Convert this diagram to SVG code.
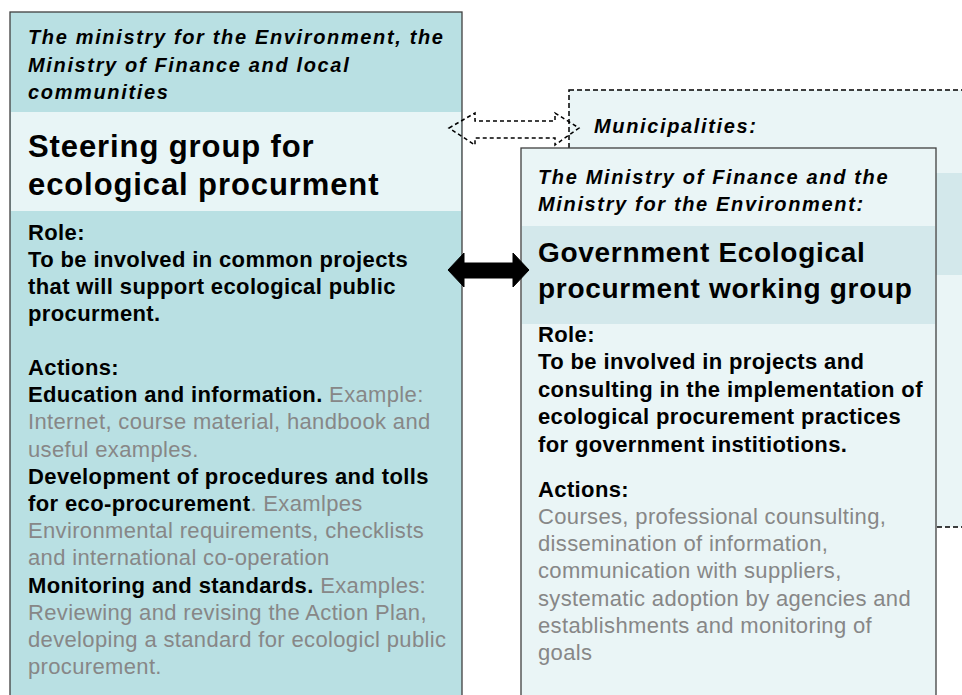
<svg xmlns="http://www.w3.org/2000/svg" width="962" height="695" viewBox="0 0 962 695">
<style>
text{font-family:"Liberation Sans",Arial,sans-serif;}
.hdr{font-size:20px;font-weight:bold;font-style:italic;letter-spacing:1.65px;fill:#000;}
.ttl{font-size:31px;font-weight:bold;letter-spacing:0.9px;fill:#000;}
.ttl2{font-size:28px;font-weight:bold;letter-spacing:0.7px;fill:#000;}
.b{font-size:22px;font-weight:bold;letter-spacing:0.38px;fill:#000;}
.g{font-size:22px;font-weight:normal;letter-spacing:0.35px;fill:#878787;}
.box{stroke:#3f3f3f;stroke-width:1.3;}
</style>
<rect x="0" y="0" width="962" height="695" fill="#ffffff"/>

<g id="steering">
<rect class="box" x="10" y="12" width="452" height="700" fill="#b9e0e3"/>
<rect x="11" y="112" width="450" height="99" fill="#e8f5f6"/>
<text class="hdr" x="28" y="44">The ministry for the Environment, the</text>
<text class="hdr" x="28" y="71.5">Ministry of Finance and local</text>
<text class="hdr" x="28" y="99">communities</text>
<text class="ttl" x="28" y="157">Steering group for</text>
<text class="ttl" x="28" y="195">ecological procurment</text>
<text class="b" x="28" y="239.5">Role:</text>
<text class="b" x="28" y="266.8">To be involved in common projects</text>
<text class="b" x="28" y="294">that will support ecological public</text>
<text class="b" x="28" y="321.3">procurment.</text>
<text class="b" x="28" y="375">Actions:</text>
<text x="28" y="402.2"><tspan class="b">Education and information.</tspan><tspan class="g"> Example:</tspan></text>
<text class="g" x="28" y="429.4">Internet, course material, handbook and</text>
<text class="g" x="28" y="456.6">useful examples.</text>
<text class="b" x="28" y="483.8">Development of procedures and tolls</text>
<text x="28" y="511"><tspan class="b">for eco-procurement</tspan><tspan class="g">. Examlpes</tspan></text>
<text class="g" x="28" y="538.2">Environmental requirements, checklists</text>
<text class="g" x="28" y="565.4">and international co-operation</text>
<text x="28" y="592.6"><tspan class="b">Monitoring and standards.</tspan><tspan class="g"> Examples:</tspan></text>
<text class="g" x="28" y="619.8">Reviewing and revising the Action Plan,</text>
<text class="g" x="28" y="647">developing a standard for ecologicl public</text>
<text class="g" x="28" y="674.2">procurement.</text>
</g>

<g id="municipalities">
<rect x="569" y="90" width="420" height="437" fill="#eaf5f6" stroke="#000" stroke-width="1.5" stroke-dasharray="5,3"/>
<rect x="570" y="173" width="400" height="102" fill="#d3e8eb"/>
<text class="hdr" x="594" y="133.3">Municipalities:</text>
</g>

<g id="working-group">
<rect class="box" x="521" y="148" width="415" height="570" fill="#eaf5f6"/>
<rect x="522" y="226" width="413" height="98" fill="#d3e8eb"/>
<text class="hdr" x="538" y="184">The Ministry of Finance and the</text>
<text class="hdr" x="538" y="210.7">Ministry for the Environment:</text>
<text class="ttl2" x="538" y="261.7">Government Ecological</text>
<text class="ttl2" x="538" y="298.3">procurment working group</text>
<text class="b" x="538" y="341.7">Role:</text>
<text class="b" x="538" y="369.2">To be involved in projects and</text>
<text class="b" x="538" y="396.6">consulting in the implementation of</text>
<text class="b" x="538" y="424">ecological procurement practices</text>
<text class="b" x="538" y="451.5">for government institiotions.</text>
<text class="b" x="538" y="496.7">Actions:</text>
<text class="g" x="538" y="524">Courses, professional counsulting,</text>
<text class="g" x="538" y="551.2">dissemination of information,</text>
<text class="g" x="538" y="578.4">communication with suppliers,</text>
<text class="g" x="538" y="605.6">systematic adoption by agencies and</text>
<text class="g" x="538" y="632.8">establishments and monitoring of</text>
<text class="g" x="538" y="660">goals</text>
</g>

<g id="connectors">
<polygon points="449,128 475,113 475,121 555,121 555,113 579,128 555,145 555,138 475,138 475,145" fill="none" stroke="#000" stroke-width="1.5" stroke-dasharray="4,3"/>
<polygon points="448,270 464,253 464,263 513,263 513,253 529,270 513,287 513,278 464,278 464,287" fill="#000" stroke="#000" stroke-width="1"/>
</g>
</svg>
